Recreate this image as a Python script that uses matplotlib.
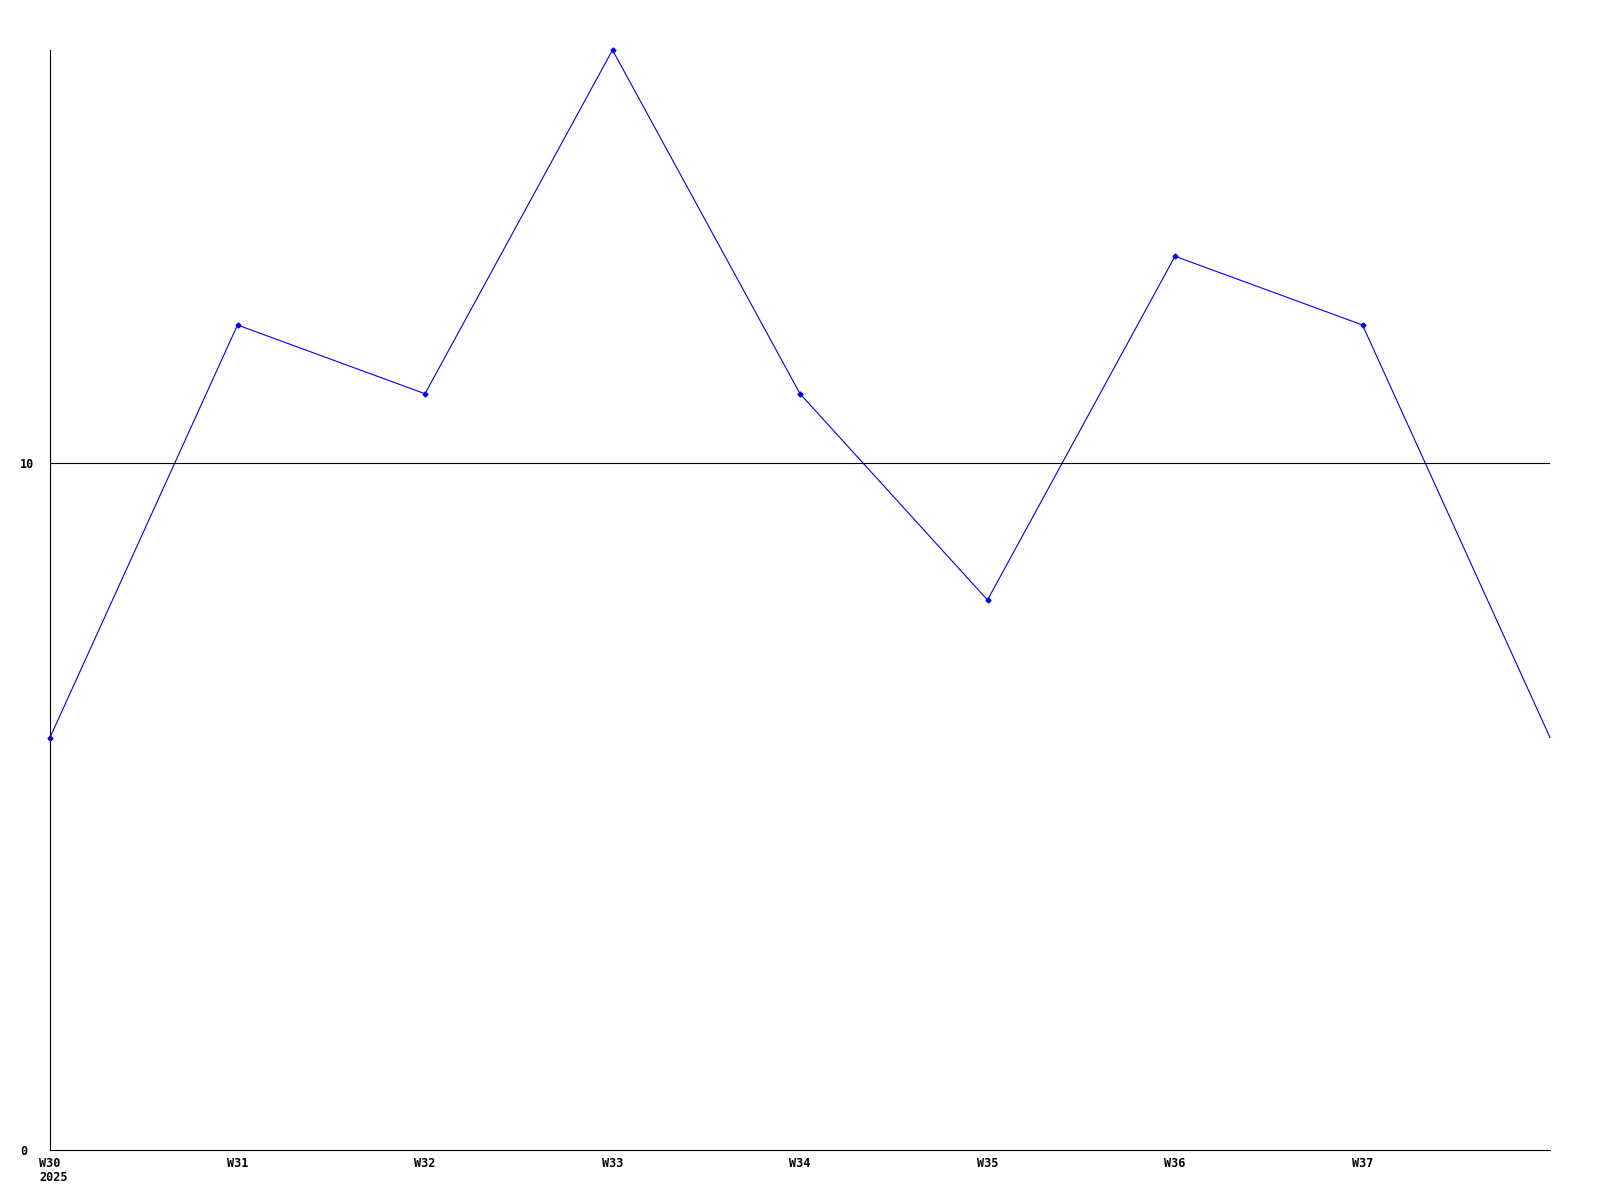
import numpy as np
import matplotlib.pyplot as plt

# Weekly values
weeks = ["W30", "W31", "W32", "W33", "W34", "W35", "W36", "W37", "W38"]
values = [6, 12, 11, 16, 11, 8, 13, 12, 6]
year = "2025"

plt.rcParams['font.family'] = ['DejaVu Sans Mono']

fig = plt.figure(figsize=(16, 12), dpi=100)
ax = fig.add_axes([50 / 1600, 50 / 1200, 1500 / 1600, 1100 / 1200])

x = np.arange(len(values))
ax.plot(x, values, color="#0000ff", linewidth=0.8, clip_on=False)
ax.plot(x[:-1], values[:-1], linestyle="none", marker="D", markersize=2.5,
        color="#0000ff", clip_on=False)

# reference line at 10
ax.axhline(10, color="black", linewidth=0.8)

ax.set_xlim(0, 8)
ax.set_ylim(0, 16)
ax.set_xticks(x[:-1])
ax.set_xticklabels(weeks[:-1], fontsize=8.5, fontweight="bold")
ax.set_yticks([0, 10])
ax.set_yticklabels(["0", "10"], fontsize=8.5, fontweight="bold", ha="left")
ax.tick_params(length=0)
ax.tick_params(axis="x", pad=5)
ax.tick_params(axis="y", pad=21.6)

# year below the first week label, left aligned with it
ax.annotate(year, xy=(0, 0), xycoords=("data", "axes fraction"),
            xytext=(-11, -21), textcoords="offset pixels",
            ha="left", va="top", fontsize=8.5, fontweight="bold")

for s in ["top", "right"]:
    ax.spines[s].set_visible(False)
for s in ["left", "bottom"]:
    ax.spines[s].set_linewidth(0.8)

fig.savefig("out.png", dpi=100)
